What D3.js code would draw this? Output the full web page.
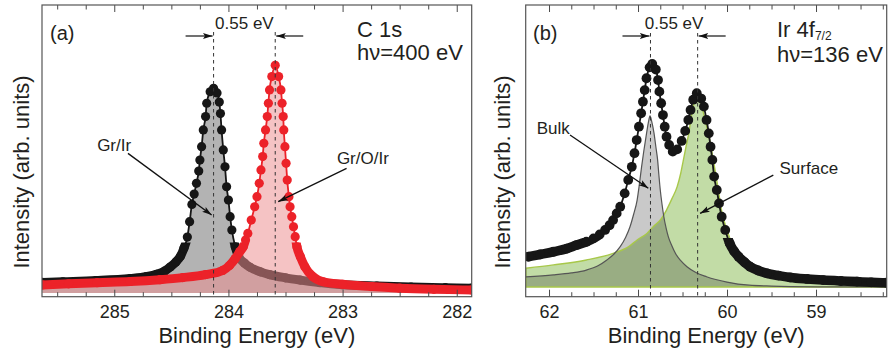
<!DOCTYPE html>
<html><head><meta charset="utf-8">
<script src="https://cdn.jsdelivr.net/npm/d3@7"></script>
<style>
html,body{margin:0;padding:0;background:#fff;}
svg{display:block;font-family:"Liberation Sans",Arial,Helvetica,sans-serif;}
</style></head><body>
<svg id="chart" width="890" height="352"></svg>
<script>
// ---------- DATA (binding energy eV, intensity arb. units) ----------
const ticksA = [285, 284, 283, 282];
const ticksB = [62, 61, 60, 59];
const peaksA = [284.13, 283.59];
const peaksB = [60.86, 60.33];

const grIr = [
[285.63,0.046],[285.45,0.049],[285.16,0.054],[284.86,0.063],[284.72,0.071],[284.63,0.081],
[284.56,0.095],[284.51,0.113],[284.46,0.135],[284.42,0.160],[284.39,0.195],[284.36,0.243],
[284.34,0.31],[284.32,0.385],[284.30,0.43],[284.28,0.477],[284.26,0.53],[284.25,0.578],
[284.235,0.636],[284.22,0.709],[284.20,0.767],[284.19,0.825],[284.16,0.875],[284.13,0.89],
[284.10,0.87],[284.08,0.83],[284.07,0.78],[284.06,0.709],[284.045,0.622],[284.03,0.549],
[284.016,0.462],[284.0,0.404],[283.985,0.332],[283.97,0.274],[283.94,0.201],[283.91,0.158],
[283.86,0.13],[283.81,0.112],[283.72,0.092],[283.64,0.080],[283.50,0.066],[283.37,0.056],
[283.20,0.045],[283.0,0.036],[282.7,0.030],[282.4,0.026],[282.1,0.023],[281.87,0.021]
];
const grOIr = [
[285.63,0.035],[285.40,0.040],[285.15,0.045],[284.86,0.050],[284.60,0.058],[284.40,0.067],
[284.20,0.080],[284.05,0.098],[283.99,0.12],[283.94,0.15],[283.90,0.18],[283.87,0.201],
[283.85,0.23],[283.83,0.259],[283.80,0.317],[283.77,0.375],[283.75,0.419],[283.73,0.477],
[283.715,0.535],[283.70,0.593],[283.69,0.651],[283.675,0.709],[283.66,0.767],[283.65,0.825],
[283.64,0.883],[283.62,0.941],[283.59,0.99],[283.56,0.941],[283.54,0.883],[283.53,0.825],
[283.52,0.767],[283.515,0.709],[283.505,0.636],[283.495,0.564],[283.485,0.491],[283.47,0.419],
[283.46,0.375],[283.445,0.332],[283.43,0.288],[283.415,0.245],[283.40,0.201],[283.37,0.158],
[283.33,0.114],[283.26,0.071],[283.17,0.049],[283.0,0.038],[282.75,0.028],[282.5,0.021],
[282.2,0.016],[281.87,0.013]
];
const irData = [
[62.23,0.136],[62.10,0.146],[61.95,0.158],[61.80,0.172],[61.69,0.188],[61.58,0.203],
[61.50,0.218],[61.43,0.236],[61.37,0.256],[61.32,0.277],[61.28,0.300],[61.24,0.33],
[61.20,0.360],[61.15,0.420],[61.11,0.480],[61.07,0.539],[61.04,0.600],[61.015,0.659],
[60.99,0.719],[60.965,0.779],[60.945,0.831],[60.925,0.883],[60.905,0.936],[60.87,0.985],
[60.84,1.0],[60.80,0.975],[60.775,0.928],[60.76,0.876],[60.74,0.824],[60.72,0.771],
[60.70,0.719],[60.68,0.674],[60.65,0.637],[60.61,0.607],[60.56,0.617],[60.51,0.655],
[60.47,0.700],[60.435,0.749],[60.41,0.794],[60.38,0.840],[60.34,0.869],[60.29,0.845],
[60.26,0.809],[60.23,0.749],[60.205,0.689],[60.185,0.629],[60.165,0.570],[60.145,0.495],
[60.115,0.435],[60.09,0.375],[60.06,0.315],[60.02,0.256],[59.97,0.196],[59.92,0.160],
[59.87,0.136],[59.80,0.110],[59.74,0.091],[59.65,0.074],[59.55,0.061],[59.42,0.051],
[59.29,0.043],[59.10,0.036],[58.92,0.031],[58.72,0.027],[58.54,0.024],[58.38,0.021],[58.21,0.019]
];
const bulk = [
[62.26,0.045],[61.95,0.054],[61.75,0.063],[61.58,0.076],[61.45,0.095],[61.35,0.121],
[61.27,0.148],[61.20,0.181],[61.14,0.222],[61.09,0.270],[61.05,0.325],[61.01,0.390],
[60.985,0.46],[60.96,0.539],[60.935,0.61],[60.91,0.674],[60.885,0.735],[60.865,0.767],
[60.845,0.74],[60.82,0.689],[60.80,0.63],[60.78,0.570],[60.765,0.50],[60.75,0.435],
[60.73,0.37],[60.71,0.315],[60.685,0.265],[60.66,0.226],[60.62,0.185],[60.58,0.151],
[60.52,0.118],[60.45,0.091],[60.35,0.065],[60.23,0.046],[60.0,0.022],[59.75,0.008],
[59.5,0.004],[59.0,0.001],[58.21,0.0]
];
const surface = [
[62.26,0.084],[61.95,0.099],[61.58,0.121],[61.28,0.151],[61.10,0.182],[61.01,0.211],
[60.90,0.240],[60.83,0.270],[60.74,0.305],[60.68,0.345],[60.62,0.395],[60.56,0.450],
[60.52,0.51],[60.49,0.570],[60.46,0.63],[60.43,0.689],[60.39,0.794],[60.36,0.835],
[60.33,0.848],[60.30,0.835],[60.27,0.79],[60.235,0.73],[60.20,0.67],[60.15,0.56],
[60.10,0.44],[60.06,0.34],[60.00,0.255],[59.94,0.19],[59.85,0.125],[59.74,0.076],
[59.52,0.049],[59.29,0.031],[58.85,0.016],[58.21,0.007]
];

// ---------- LAYOUT ----------
const svg = d3.select("#chart");
const TXT = "#231f20";
const panels = [
  {key:"a", L:42, R:471.7, T:5, B:296.7, xd:[285.633,281.869], y0px:293, y1px:63, ticks:ticksA},
  {key:"b", L:525.7, R:886.7, T:5, B:296.7, xd:[62.262,58.206], y0px:287, y1px:64, ticks:ticksB}
];
const defs = svg.append("defs");
defs.append("marker").attr("id","arr").attr("viewBox","0 0 12 10").attr("refX",12).attr("refY",5)
  .attr("markerWidth",10).attr("markerHeight",8).attr("markerUnits","userSpaceOnUse").attr("orient","auto")
  .append("path").attr("d","M0,1.2 L12,5 L0,8.8 L2.5,5 Z").attr("fill","#111");

function setup(p){
  p.x = d3.scaleLinear().domain(p.xd).range([p.L,p.R]);
  p.y = d3.scaleLinear().domain([0,1]).range([p.y0px,p.y1px]);
  defs.append("clipPath").attr("id","clip"+p.key).append("rect")
    .attr("x",p.L).attr("y",p.T).attr("width",p.R-p.L).attr("height",p.B-p.T);
  // band clip: only the low-intensity tails are drawn as a continuous thick band
  defs.append("clipPath").attr("id","band"+p.key).append("rect")
    .attr("x",p.L).attr("y",p.y(0.22)).attr("width",p.R-p.L).attr("height",p.B-p.y(0.22));
  p.g = svg.append("g");
  p.plot = p.g.append("g").attr("clip-path",`url(#clip${p.key})`);
  return p;
}
function axes(p){
  const lo = Math.min(...p.xd), hi = Math.max(...p.xd);
  const minors = d3.range(Math.ceil(lo*4)/4, hi+1e-9, 0.25).filter(v=>Math.abs(v-Math.round(v))>1e-6 && p.x(v)>p.L+2 && p.x(v)<p.R-1);
  const gb = p.g.append("g").attr("transform",`translate(0,${p.B})`);
  gb.call(d3.axisBottom(p.x).tickValues(p.ticks).tickSize(-7).tickPadding(9).tickFormat(d3.format("d")));
  gb.append("g").call(d3.axisBottom(p.x).tickValues(minors).tickSize(-4.5).tickFormat(""));
  const gt = p.g.append("g").attr("transform",`translate(0,${p.T})`);
  gt.call(d3.axisTop(p.x).tickValues(p.ticks).tickSize(-7).tickFormat(""));
  gt.append("g").call(d3.axisTop(p.x).tickValues(minors).tickSize(-4.5).tickFormat(""));
  [gb,gt].forEach(g=>{
    g.selectAll(".domain").remove();
    g.selectAll("line").attr("stroke","#4a4a4a").attr("stroke-width",1);
    g.selectAll("text").attr("font-size",18).attr("fill",TXT).attr("font-family","Liberation Sans, Arial, sans-serif");
  });
  p.g.append("rect").attr("x",p.L).attr("y",p.T).attr("width",p.R-p.L).attr("height",p.B-p.T)
    .attr("fill","none").attr("stroke","#555").attr("stroke-width",1.2);
  p.g.append("text").attr("x",(p.L+p.R)/2).attr("y",343).attr("text-anchor","middle")
    .attr("font-size",22).attr("fill",TXT).text("Binding Energy (eV)");
  const lx = p.key==="a" ? 21 : 502;
  p.g.append("text").attr("transform",`translate(${lx},172) rotate(-90)`).attr("text-anchor","middle")
    .attr("dominant-baseline","central").attr("font-size",22).attr("fill",TXT).text("Intensity (arb. units)");
}
const area = p => d3.area().x(d=>p.x(d[0])).y0(p.y(0)).y1(d=>p.y(d[1])).curve(d3.curveMonotoneX);
const line = p => d3.line().x(d=>p.x(d[0])).y(d=>p.y(d[1])).curve(d3.curveMonotoneX);

function dataSeries(p, data, color, r){
  p.plot.append("g").attr("clip-path",`url(#band${p.key})`).append("path").attr("d",line(p)(data))
    .attr("fill","none").attr("stroke",color)
    .attr("stroke-width",r*1.95).attr("stroke-linejoin","round").attr("stroke-linecap","round");
  p.plot.append("path").attr("d",line(p)(data)).attr("fill","none").attr("stroke",color).attr("stroke-width",1.8);
  p.plot.append("g").selectAll("circle").data(data).join("circle")
    .attr("cx",d=>p.x(d[0])).attr("cy",d=>p.y(d[1])).attr("r",r).attr("fill",color);
}
function dashes(p, peaks, topY){
  peaks.forEach(v=>{
    p.g.append("line").attr("x1",p.x(v)).attr("x2",p.x(v)).attr("y1",topY).attr("y2",p.B)
      .attr("stroke","#333").attr("stroke-width",1).attr("stroke-dasharray","3.5,3.5");
  });
  const xl = p.x(peaks[0]), xr = p.x(peaks[1]);
  p.g.append("line").attr("x1",xl-28).attr("x2",xl-1).attr("y1",36).attr("y2",36)
    .attr("stroke","#111").attr("stroke-width",1.2).attr("marker-end","url(#arr)");
  p.g.append("line").attr("x1",xr+28).attr("x2",xr+1).attr("y1",36).attr("y2",36)
    .attr("stroke","#111").attr("stroke-width",1.2).attr("marker-end","url(#arr)");
  p.g.append("text").attr("x",(xl+xr)/2).attr("y",29).attr("text-anchor","middle")
    .attr("font-size",17).attr("fill",TXT).text("0.55 eV");
}
function annot(p, label, tx, ty, fromBE, fromI, toBE, toI){
  p.g.append("text").attr("x",p.x(tx)).attr("y",p.y(ty)).attr("dominant-baseline","central")
    .attr("font-size",17).attr("fill",TXT).text(label);
  p.g.append("line").attr("x1",p.x(fromBE)).attr("y1",p.y(fromI)).attr("x2",p.x(toBE)).attr("y2",p.y(toI))
    .attr("stroke","#111").attr("stroke-width",1.3).attr("marker-end","url(#arr)");
}

// ---------- PANEL (a) ----------
const A = setup(panels[0]);
A.plot.append("path").attr("d",area(A)(grIr)).attr("fill","#b3b3b3");
dataSeries(A, grIr, "#161616", 4.6);
A.plot.append("path").attr("d",area(A)(grOIr)).attr("fill","rgb(236,141,143)").attr("fill-opacity",0.53);
dataSeries(A, grOIr, "#ec2229", 4.6);
dashes(A, peaksA, 32);
annot(A, "Gr/Ir", 285.15, 0.643, 284.88, 0.607, 284.147, 0.339);
annot(A, "Gr/O/Ir", 283.05, 0.586, 282.965, 0.542, 283.564, 0.397);
A.g.append("text").attr("x",50).attr("y",40).attr("font-size",20).attr("fill",TXT).text("(a)");
A.g.append("text").attr("x",357).attr("y",37).attr("font-size",22).attr("fill",TXT).text("C 1s");
A.g.append("text").attr("x",357).attr("y",60).attr("font-size",22).attr("fill",TXT).text("hν=400 eV");
axes(A);

// ---------- PANEL (b) ----------
const Bp = setup(panels[1]);
Bp.plot.append("path").attr("d",area(Bp)(bulk)).attr("fill","#c9c9c9");
Bp.plot.append("path").attr("d",area(Bp)(surface)).attr("fill","#c2dca6").style("mix-blend-mode","multiply");
Bp.plot.append("path").attr("d",area(Bp)(surface)).attr("fill","none").attr("stroke","#a8c84a").attr("stroke-width",1.4);
Bp.plot.append("path").attr("d",line(Bp)(bulk)).attr("fill","none").attr("stroke","#555").attr("stroke-width",1.2);
dashes(Bp, peaksB, 33);
dataSeries(Bp, irData, "#161616", 4.9);
annot(Bp, "Bulk", 62.138, 0.712, 61.764, 0.682, 60.884, 0.443);
annot(Bp, "Surface", 59.41, 0.532, 59.48, 0.502, 60.303, 0.330);
Bp.g.append("text").attr("x",533).attr("y",40).attr("font-size",20).attr("fill",TXT).text("(b)");
const t = Bp.g.append("text").attr("x",777).attr("y",37).attr("font-size",22).attr("fill",TXT);
t.append("tspan").text("Ir 4f");
t.append("tspan").attr("font-size",12).attr("dy",3).text("7/2");
Bp.g.append("text").attr("x",777).attr("y",62).attr("font-size",22).attr("fill",TXT).text("hν=136 eV");
axes(Bp);
</script>
</body></html>
